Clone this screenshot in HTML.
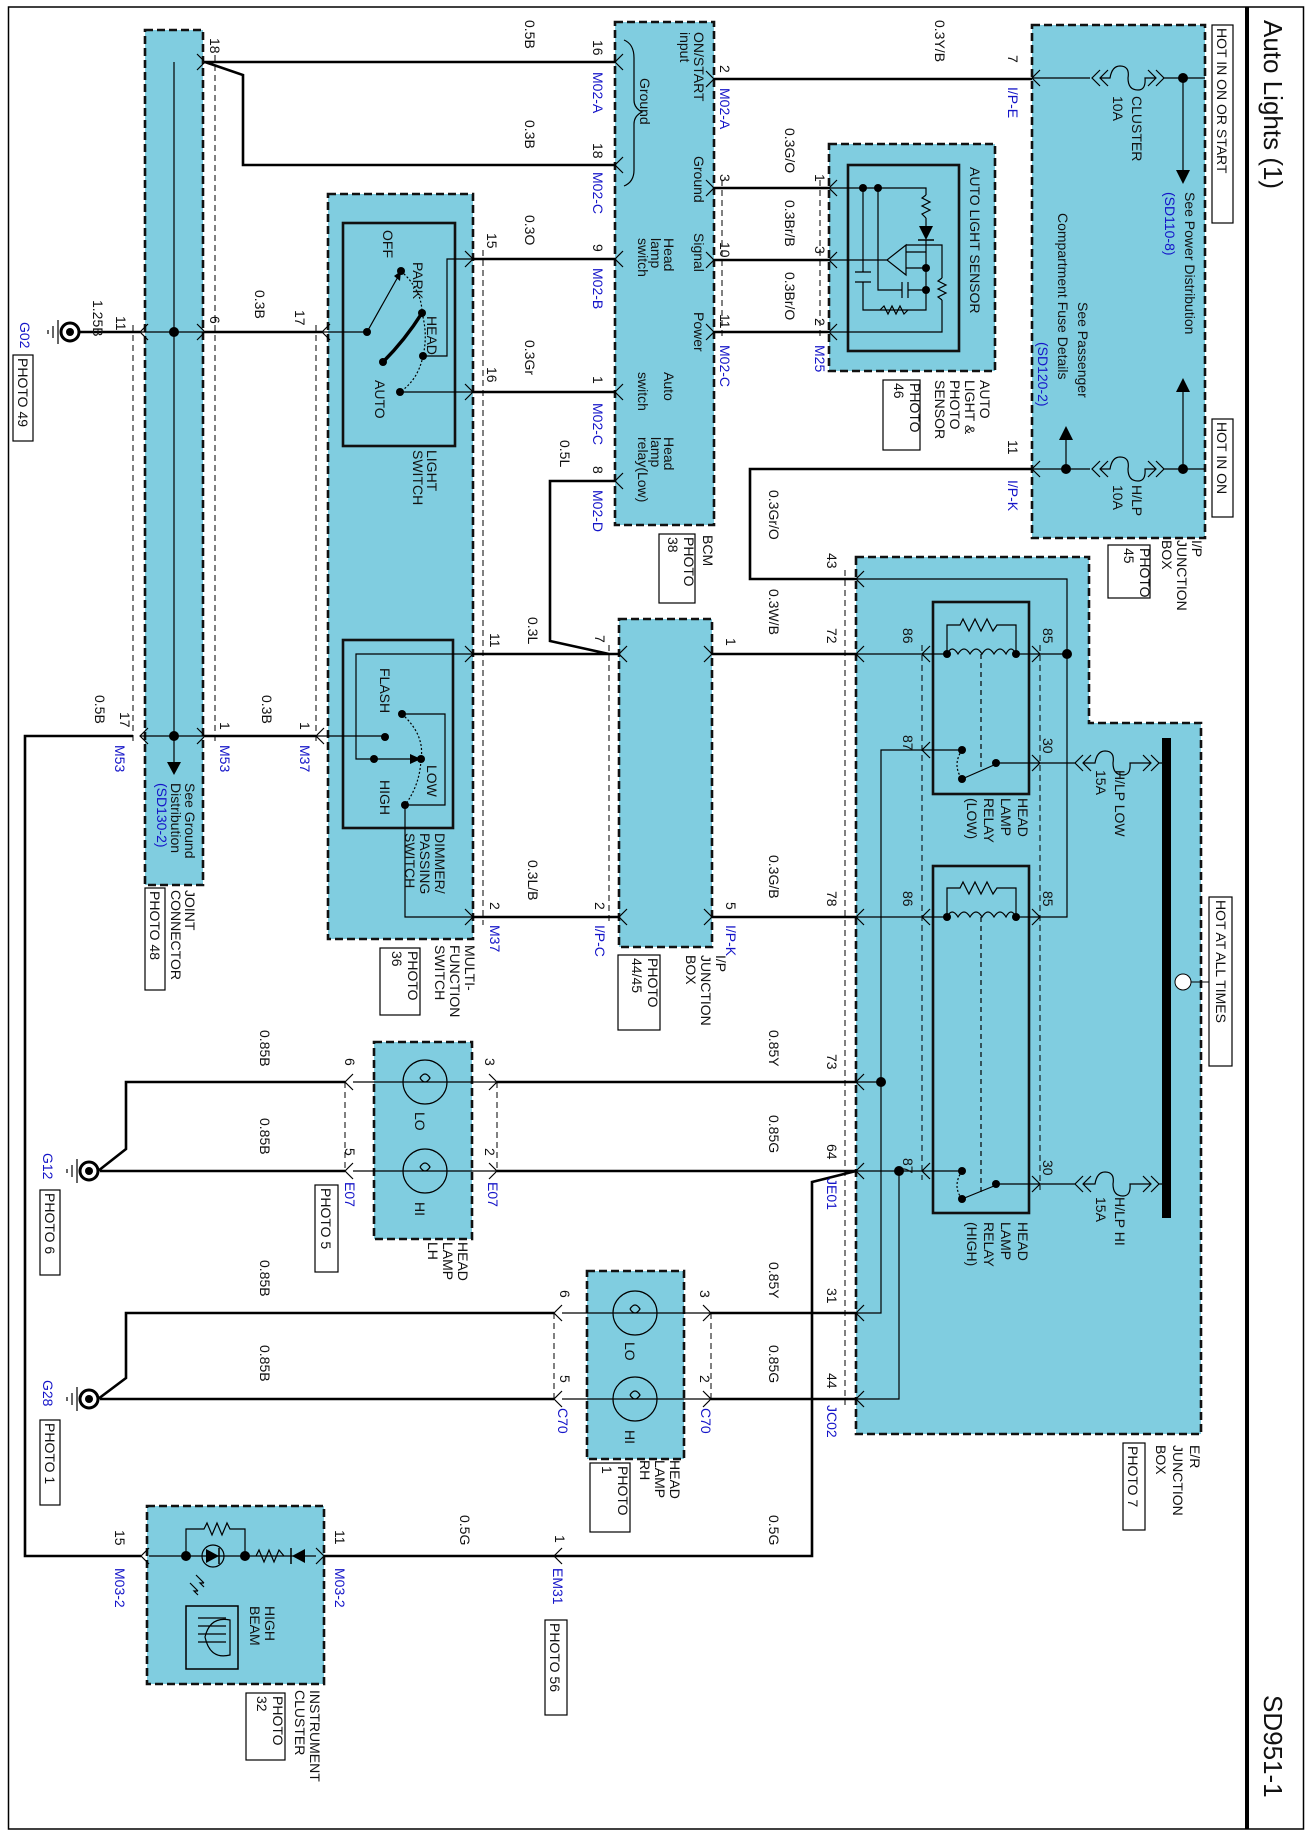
<!DOCTYPE html>
<html><head><meta charset="utf-8"><style>
html,body{margin:0;padding:0;background:#fff}
svg{display:block}
text{font-family:"Liberation Sans",sans-serif;font-size:14px;fill:#111}
.b{fill:#1414c8}
.w{stroke:#000;stroke-width:2.6;fill:none}
.n{stroke:#000;stroke-width:1.2;fill:none}
.d{stroke:#000;stroke-width:1;fill:none;stroke-dasharray:6 4}
.bx{fill:#80cde0;stroke:#111;stroke-width:2.6;stroke-dasharray:8 4}
.ir{fill:none;stroke:#111;stroke-width:2.6}
.pb{fill:#fff;stroke:#000;stroke-width:1.2}
</style></head><body>
<svg width="1311" height="1836" viewBox="0 0 1311 1836" xmlns="http://www.w3.org/2000/svg">
<rect x="8.5" y="7" width="1295" height="1822" fill="none" stroke="#000" stroke-width="1.5"/>
<line x1="1247" y1="7" x2="1247" y2="1829" stroke="#000" stroke-width="4"/>
<text transform="translate(1264,20) rotate(90)" style="font-size:26px">Auto Lights (1)</text>
<text transform="translate(1264,1695) rotate(90)" style="font-size:26px">SD951-1</text>

<rect class="bx" x="145" y="30" width="58" height="855"/>
<rect class="bx" x="328" y="194" width="145" height="745"/>
<rect class="bx" x="615" y="22" width="99" height="503"/>
<rect class="bx" x="829" y="144" width="166" height="227"/>
<rect class="bx" x="1032" y="25" width="173" height="513"/>
<rect class="bx" x="619" y="619" width="93" height="328"/>
<polygon class="bx" points="856,557 1089,557 1089,723 1201,723 1201,1434 856,1434"/>
<rect class="bx" x="374" y="1042" width="98" height="197"/>
<rect class="bx" x="587" y="1271" width="97" height="188"/>
<rect class="bx" x="147" y="1506" width="177" height="178"/>

<rect class="ir" x="343" y="223" width="112" height="223"/>
<rect class="ir" x="343" y="640" width="110" height="188"/>
<rect class="ir" x="848" y="165" width="111" height="186"/>
<rect class="ir" x="933" y="602" width="96" height="192"/>
<rect class="ir" x="933" y="866" width="96" height="347"/>

<path class="d" d="M133 325V745M215 55V745M316 325V745M483 250V925M609 645V925M722 180V340M820 180V340M845 570V1405M922 645V1180M1040 645V1190M345 1082V1171M497 1082V1171M554 1313V1399M711 1313V1399"/>

<path class="w" d="M205 62H615M205 62L243 75V165H615M80 332H140M205 332H322M473 259H615M473 392H615M615 481H550V641L609 654M473 654H619M473 917H619M712 654H856M712 917H856M714 79H1032M714 188H829M714 260H829M714 332H829M1032 469H750V579H856M497 1082H856M497 1171H856M345 1082H126V1149L98 1171M345 1171H100M711 1313H856M711 1399H856M554 1313H126V1378L98 1399M554 1399H100M856 1171L812 1182V1556H324M141 1556H25V736H133M205 736H316"/>

<g class="n" stroke-width="1.6">
<path d="M197 54L205 62L197 70M197 324L205 332L197 340M197 728L205 736L197 744M148 324L140 332L148 340M148 728L140 736L148 744"/>
<path d="M330 324L322 332L330 340M324 728L316 736L324 744M465 251L473 259L465 267M465 384L473 392L465 400M465 646L473 654L465 662M465 909L473 917L465 925"/>
<path d="M623 54L615 62L623 70M623 157L615 165L623 173M623 251L615 259L623 267M623 384L615 392L623 400M623 473L615 481L623 489"/>
<path d="M706 71L714 79L706 87M706 180L714 188L706 196M706 252L714 260L706 268M706 324L714 332L706 340"/>
<path d="M837 180L829 188L837 196M837 252L829 260L837 268M837 324L829 332L837 340M1040 70L1032 78L1040 86M1040 461L1032 469L1040 477"/>
<path d="M627 646L619 654L627 662M627 909L619 917L627 925M704 646L712 654L704 662M704 909L712 917L704 925"/>
<path d="M864 571L856 579L864 587M864 646L856 654L864 662M864 909L856 917L864 925M864 1074L856 1082L864 1090M864 1163L856 1171L864 1179M864 1305L856 1313L864 1321M864 1391L856 1399L864 1407"/>
<path d="M353 1074L345 1082L353 1090M353 1163L345 1171L353 1179M489 1074L497 1082L489 1090M489 1163L497 1171L489 1179M562 1305L554 1313L562 1321M562 1391L554 1399L562 1407M703 1305L711 1313L703 1321M703 1391L711 1399L703 1407"/>
<path d="M149 1548L141 1556L149 1564M316 1548L324 1556L316 1564M562 1548L554 1556L562 1564"/>
<path d="M930 646L922 654L930 662M930 742L922 750L930 758M930 909L922 917L930 925M930 1163L922 1171L930 1179M1032 646L1040 654L1032 662M1032 755L1040 763L1032 771M1032 909L1040 917L1032 925M1032 1176L1040 1184L1032 1192"/>
</g>

<path class="n" d="M174 62V762M140 332H205M140 736H205M856 1082H881"/>
<circle cx="174" cy="332" r="5"/><circle cx="174" cy="736" r="5"/>
<polygon points="167,762 181,762 174,775"/>

<circle cx="70" cy="332" r="9" fill="#fff" stroke="#000" stroke-width="3"/><circle cx="70" cy="332" r="4"/>
<path class="n" stroke-width="2" d="M58 320V344M53 326V338M48 330V334"/>
<circle cx="89" cy="1171" r="9" fill="#fff" stroke="#000" stroke-width="3"/><circle cx="89" cy="1171" r="4"/>
<path class="n" stroke-width="2" d="M77 1159V1183M72 1165V1177M67 1169V1173"/>
<circle cx="89" cy="1399" r="9" fill="#fff" stroke="#000" stroke-width="3"/><circle cx="89" cy="1399" r="4"/>
<path class="n" stroke-width="2" d="M77 1387V1411M72 1393V1405M67 1397V1401"/>

<path class="n" d="M322 332H367L399 275M400 392H473M423 356H447V259H473"/>
<path d="M401 271L394 276L400 281Z"/>
<path d="M383 362Q405 340 422 313" stroke="#000" stroke-width="3.5" fill="none"/>
<path class="n" stroke-dasharray="2 2" d="M401 271Q422 290 422 313Q428 335 423 356Q418 380 400 392"/>
<circle cx="367" cy="332" r="4"/><circle cx="401" cy="271" r="4"/><circle cx="422" cy="313" r="4"/><circle cx="383" cy="362" r="4"/><circle cx="423" cy="356" r="4"/><circle cx="400" cy="392" r="4"/>

<path class="n" d="M473 654H356V759H415M316 736H385M402 714H445V805H405M405 805V917H473"/>
<path d="M421 759L410 754L410 764Z"/>
<path class="n" stroke-dasharray="2 2" d="M402 714Q425 735 421 759Q420 785 405 805"/>
<circle cx="385" cy="737" r="4"/><circle cx="374" cy="759" r="4"/><circle cx="421" cy="759" r="4"/><circle cx="402" cy="714" r="4"/><circle cx="405" cy="805" r="4"/>

<path class="n" d="M624 40Q634 44 634 58V100Q634 108 642 112Q634 116 634 124V170Q634 182 624 186"/>

<g class="n">
<path d="M1032 78H1090M1100 70L1092 78L1100 86M1108 70L1100 78L1108 86M1100 78H1110Q1112 66 1120 66Q1130 66 1128 78Q1128 90 1138 90Q1146 90 1145 78H1155M1148 70L1156 78L1148 86M1156 70L1164 78L1156 86M1164 78H1205M1183 78V172"/>
<path d="M1032 469H1090M1100 461L1092 469L1100 477M1108 461L1100 469L1108 477M1100 469H1110Q1112 457 1120 457Q1130 457 1128 469Q1128 481 1138 481Q1146 481 1145 469H1155M1148 461L1156 469L1148 477M1156 461L1164 469L1156 477M1164 469H1205M1183 469V390M1066 469V438"/>
</g>
<circle cx="1183" cy="78" r="5"/><circle cx="1183" cy="469" r="5"/><circle cx="1066" cy="469" r="5"/>
<polygon points="1176,170 1190,170 1183,184"/><polygon points="1176,392 1190,392 1183,378"/><polygon points="1059,440 1073,440 1066,426"/>
<rect class="pb" x="1212" y="25" width="21" height="198"/>
<rect class="pb" x="1212" y="419" width="21" height="98"/>

<g class="n">
<path d="M829 188H926V195M926 218V226M926 240V310H880M863 188V272M855 272H871M855 282H871M863 282V310H880M878 188V290H902M902 282V298M908 282V298M908 290H926M829 260H887M887 260L906 245V275Z M906 252H926M906 268H926M906 245H942V278M942 300V332H829"/>
<path d="M926 195L922 198L930 202L922 206L930 210L922 214L926 218M942 278L938 281L946 285L938 289L946 293L938 297L942 300M880 310L884 306L888 314L892 306L896 314L900 306L904 314L908 310"/>
</g>
<polygon points="919,226 933,226 926,240"/><line x1="918" y1="240" x2="934" y2="240" stroke="#000" stroke-width="1.5"/>
<circle cx="863" cy="188" r="4"/><circle cx="878" cy="188" r="4"/><circle cx="926" cy="268" r="4"/><circle cx="926" cy="290" r="4"/>

<path class="n" d="M856 579H1067V917H1040M1040 654H1067M856 654H922M856 917H922M922 750H881V1313H856M922 1171H856M899 1171V1399H856"/>
<circle cx="1067" cy="654" r="5"/><circle cx="881" cy="1082" r="5"/><circle cx="899" cy="1171" r="5"/>
<rect x="1162" y="738" width="9" height="480"/>
<line x1="1191" y1="982" x2="1209" y2="982" stroke="#000"/>
<circle cx="1183" cy="982" r="8" fill="#fff" stroke="#000"/>
<rect class="pb" x="1209" y="897" width="23" height="169"/>

<g class="n">
<path d="M922 654H947M1016 654H1040M947 654V625H960L963 619L969 631L975 619L981 631L987 619L993 631L997 625H1016V654M947 654Q952 644 958 654Q964 644 970 654Q976 644 982 654Q988 644 994 654Q1000 644 1006 654Q1011 644 1016 654M922 750H962M996 763H1040M962 779L994 765M1040 763H1075M1083 755L1075 763L1083 771M1091 755L1083 763L1091 771M1083 763H1095Q1097 751 1105 751Q1115 751 1113 763Q1113 775 1123 775Q1131 775 1130 763H1150M1143 755L1151 763L1143 771M1151 755L1159 763L1151 771M1159 763H1162"/>
<path d="M922 917H947M1016 917H1040M947 917V888H960L963 882L969 894L975 882L981 894L987 882L993 894L997 888H1016V917M947 917Q952 907 958 917Q964 907 970 917Q976 907 982 917Q988 907 994 917Q1000 907 1006 917Q1011 907 1016 917M922 1171H962M996 1184H1040M962 1199L994 1186M1040 1184H1075M1083 1176L1075 1184L1083 1192M1091 1176L1083 1184L1091 1192M1083 1184H1095Q1097 1172 1105 1172Q1115 1172 1113 1184Q1113 1196 1123 1196Q1131 1196 1130 1184H1150M1143 1176L1151 1184L1143 1192M1151 1176L1159 1184L1151 1192M1159 1184H1162"/>
<path stroke-dasharray="5 4" d="M981 654V770M981 917V1192"/>
<path stroke-dasharray="2 2" d="M962 750Q952 765 962 779M962 1171Q952 1186 962 1199"/>
</g>
<circle cx="947" cy="654" r="4"/><circle cx="1016" cy="654" r="4"/><circle cx="962" cy="750" r="4"/><circle cx="996" cy="763" r="4"/><circle cx="962" cy="779" r="4"/>
<circle cx="947" cy="917" r="4"/><circle cx="1016" cy="917" r="4"/><circle cx="962" cy="1171" r="4"/><circle cx="996" cy="1184" r="4"/><circle cx="962" cy="1199" r="4"/>

<g class="n">
<circle cx="425" cy="1082" r="22"/><circle cx="425" cy="1171" r="22"/><circle cx="635" cy="1313" r="22"/><circle cx="635" cy="1399" r="22"/>
<path d="M353 1082H497M353 1171H497M562 1313H711M562 1399H711"/>
<path d="M420 1078Q425 1070 430 1078Q425 1086 420 1078M420 1167Q425 1159 430 1167Q425 1175 420 1167M630 1309Q635 1301 640 1309Q635 1317 630 1309M630 1395Q635 1387 640 1395Q635 1403 630 1395"/>
</g>

<g class="n">
<path d="M149 1556H316M186 1556V1529H204L207 1523L212 1535L217 1523L222 1535L227 1523L230 1529H245V1556M256 1556L259 1550L264 1562L269 1550L274 1562L279 1550L284 1556"/>
<circle cx="213" cy="1556" r="11"/>
<path d="M196 1575L204 1583M190 1583L198 1591M204 1583L200 1583L204 1587M198 1591L194 1591L198 1595"/>
<rect x="186" y="1606" width="52" height="63" stroke-width="1.5"/>
<path d="M198 1618H226M198 1626H226M198 1634H226M198 1642H226M230 1620Q210 1616 205 1637Q210 1660 230 1655Z"/>
</g>
<polygon points="206,1549 206,1563 219,1556"/><line x1="219" y1="1548" x2="219" y2="1564" stroke="#000" stroke-width="1.5"/>
<polygon points="305,1549 305,1563 292,1556"/><line x1="291" y1="1548" x2="291" y2="1564" stroke="#000" stroke-width="1.5"/>
<circle cx="186" cy="1556" r="5"/><circle cx="245" cy="1556" r="5"/>

<g class="pb">
<rect x="13" y="355" width="20" height="86"/>
<rect x="145" y="888" width="20" height="102"/>
<rect x="380" y="948" width="40" height="67"/>
<rect x="659" y="534" width="36" height="69"/>
<rect x="618" y="955" width="42" height="75"/>
<rect x="883" y="380" width="37" height="70"/>
<rect x="1108" y="545" width="42" height="53"/>
<rect x="1123" y="1443" width="22" height="87"/>
<rect x="40" y="1190" width="20" height="85"/>
<rect x="40" y="1420" width="20" height="85"/>
<rect x="315" y="1185" width="23" height="87"/>
<rect x="590" y="1463" width="40" height="69"/>
<rect x="545" y="1620" width="22" height="95"/>
<rect x="246" y="1693" width="39" height="67"/>
</g>

<g>
<text transform="translate(1217,28) rotate(90)">HOT IN ON OR START</text>
<text transform="translate(1217,422) rotate(90)">HOT IN ON</text>
<text transform="translate(1132,96) rotate(90)">CLUSTER</text>
<text transform="translate(1113,96) rotate(90)">10A</text>
<text transform="translate(1185,192) rotate(90)">See Power Distribution</text>
<text class="b" transform="translate(1165,192) rotate(90)">(SD110-8)</text>
<text transform="translate(1078,302) rotate(90)">See Passenger</text>
<text transform="translate(1058,213) rotate(90)">Compartment Fuse Details</text>
<text class="b" transform="translate(1038,342) rotate(90)">(SD120-2)</text>
<text transform="translate(1132,485) rotate(90)">H/LP</text>
<text transform="translate(1113,485) rotate(90)">10A</text>
<text transform="translate(1008,55) rotate(90)">7</text>
<text class="b" transform="translate(1008,87) rotate(90)">I/P-E</text>
<text transform="translate(1008,440) rotate(90)">11</text>
<text class="b" transform="translate(1008,480) rotate(90)">I/P-K</text>
<text transform="translate(1192,540) rotate(90)">I/P</text>
<text transform="translate(1177,540) rotate(90)">JUNCTION</text>
<text transform="translate(1162,540) rotate(90)">BOX</text>
<text transform="translate(1140,548) rotate(90)">PHOTO</text>
<text transform="translate(1124,548) rotate(90)">45</text>
<text transform="translate(935,20) rotate(90)">0.3Y/B</text>
<text transform="translate(970,167) rotate(90)">AUTO LIGHT SENSOR</text>
<text transform="translate(980,380) rotate(90)">AUTO</text>
<text transform="translate(965,380) rotate(90)">LIGHT &amp;</text>
<text transform="translate(950,380) rotate(90)">PHOTO</text>
<text transform="translate(935,380) rotate(90)">SENSOR</text>
<text transform="translate(910,383) rotate(90)">PHOTO</text>
<text transform="translate(894,383) rotate(90)">46</text>
<text transform="translate(815,174) rotate(90)">1</text>
<text transform="translate(815,246) rotate(90)">3</text>
<text transform="translate(815,318) rotate(90)">2</text>
<text class="b" transform="translate(815,345) rotate(90)">M25</text>
<text transform="translate(785,128) rotate(90)">0.3G/O</text>
<text transform="translate(785,200) rotate(90)">0.3Br/B</text>
<text transform="translate(785,272) rotate(90)">0.3Br/O</text>
<text transform="translate(720,65) rotate(90)">2</text>
<text class="b" transform="translate(720,88) rotate(90)">M02-A</text>
<text transform="translate(720,174) rotate(90)">3</text>
<text transform="translate(720,242) rotate(90)">10</text>
<text transform="translate(720,314) rotate(90)">11</text>
<text class="b" transform="translate(720,345) rotate(90)">M02-C</text>
<text transform="translate(694,32) rotate(90)">ON/START</text>
<text transform="translate(680,32) rotate(90)">input</text>
<text transform="translate(640,78) rotate(90)">Ground</text>
<text transform="translate(694,156) rotate(90)">Ground</text>
<text transform="translate(694,233) rotate(90)">Signal</text>
<text transform="translate(694,312) rotate(90)">Power</text>
<text transform="translate(664,238) rotate(90)">Head</text>
<text transform="translate(651,238) rotate(90)">lamp</text>
<text transform="translate(638,238) rotate(90)">switch</text>
<text transform="translate(664,372) rotate(90)">Auto</text>
<text transform="translate(638,372) rotate(90)">switch</text>
<text transform="translate(664,437) rotate(90)">Head</text>
<text transform="translate(651,437) rotate(90)">lamp</text>
<text transform="translate(638,437) rotate(90)">relay(Low)</text>
<text transform="translate(593,40) rotate(90)">16</text>
<text class="b" transform="translate(593,72) rotate(90)">M02-A</text>
<text transform="translate(593,143) rotate(90)">18</text>
<text class="b" transform="translate(593,172) rotate(90)">M02-C</text>
<text transform="translate(593,244) rotate(90)">9</text>
<text class="b" transform="translate(593,268) rotate(90)">M02-B</text>
<text transform="translate(593,376) rotate(90)">1</text>
<text class="b" transform="translate(593,403) rotate(90)">M02-C</text>
<text transform="translate(593,466) rotate(90)">8</text>
<text class="b" transform="translate(593,490) rotate(90)">M02-D</text>
<text transform="translate(703,535) rotate(90)">BCM</text>
<text transform="translate(684,537) rotate(90)">PHOTO</text>
<text transform="translate(668,537) rotate(90)">38</text>
<text transform="translate(525,20) rotate(90)">0.5B</text>
<text transform="translate(525,120) rotate(90)">0.3B</text>
<text transform="translate(525,215) rotate(90)">0.3O</text>
<text transform="translate(525,340) rotate(90)">0.3Gr</text>
<text transform="translate(560,440) rotate(90)">0.5L</text>
<text transform="translate(487,233) rotate(90)">15</text>
<text transform="translate(487,367) rotate(90)">16</text>
<text transform="translate(295,310) rotate(90)">17</text>
<text transform="translate(210,316) rotate(90)">6</text>
<text transform="translate(255,290) rotate(90)">0.3B</text>
<text transform="translate(210,38) rotate(90)">18</text>
<text transform="translate(116,316) rotate(90)">11</text>
<text transform="translate(93,300) rotate(90)">1.25B</text>
<text class="b" transform="translate(20,322) rotate(90)">G02</text>
<text transform="translate(18,358) rotate(90)">PHOTO 49</text>
<text transform="translate(383,230) rotate(90)">OFF</text>
<text transform="translate(413,262) rotate(90)">PARK</text>
<text transform="translate(427,316) rotate(90)">HEAD</text>
<text transform="translate(375,380) rotate(90)">AUTO</text>
<text transform="translate(427,450) rotate(90)">LIGHT</text>
<text transform="translate(413,450) rotate(90)">SWITCH</text>
<text transform="translate(380,668) rotate(90)">FLASH</text>
<text transform="translate(427,765) rotate(90)">LOW</text>
<text transform="translate(380,780) rotate(90)">HIGH</text>
<text transform="translate(435,833) rotate(90)">DIMMER/</text>
<text transform="translate(420,833) rotate(90)">PASSING</text>
<text transform="translate(405,833) rotate(90)">SWITCH</text>
<text transform="translate(465,945) rotate(90)">MULTI-</text>
<text transform="translate(450,945) rotate(90)">FUNCTION</text>
<text transform="translate(435,945) rotate(90)">SWITCH</text>
<text transform="translate(408,951) rotate(90)">PHOTO</text>
<text transform="translate(392,951) rotate(90)">36</text>
<text transform="translate(185,783) rotate(90)">See Ground</text>
<text transform="translate(171,783) rotate(90)">Distribution</text>
<text class="b" transform="translate(157,783) rotate(90)">(SD130-2)</text>
<text transform="translate(185,890) rotate(90)">JOINT</text>
<text transform="translate(171,890) rotate(90)">CONNECTOR</text>
<text transform="translate(150,891) rotate(90)">PHOTO 48</text>
<text transform="translate(120,712) rotate(90)">17</text>
<text class="b" transform="translate(115,745) rotate(90)">M53</text>
<text transform="translate(95,695) rotate(90)">0.5B</text>
<text transform="translate(220,722) rotate(90)">1</text>
<text class="b" transform="translate(220,745) rotate(90)">M53</text>
<text transform="translate(262,695) rotate(90)">0.3B</text>
<text transform="translate(300,722) rotate(90)">1</text>
<text class="b" transform="translate(300,745) rotate(90)">M37</text>
<text transform="translate(490,633) rotate(90)">11</text>
<text transform="translate(528,617) rotate(90)">0.3L</text>
<text transform="translate(595,635) rotate(90)">7</text>
<text transform="translate(490,902) rotate(90)">2</text>
<text class="b" transform="translate(490,925) rotate(90)">M37</text>
<text transform="translate(528,860) rotate(90)">0.3L/B</text>
<text transform="translate(595,902) rotate(90)">2</text>
<text class="b" transform="translate(595,925) rotate(90)">I/P-C</text>
<text transform="translate(716,955) rotate(90)">I/P</text>
<text transform="translate(701,955) rotate(90)">JUNCTION</text>
<text transform="translate(686,955) rotate(90)">BOX</text>
<text transform="translate(648,958) rotate(90)">PHOTO</text>
<text transform="translate(632,958) rotate(90)">44/45</text>
<text transform="translate(726,638) rotate(90)">1</text>
<text transform="translate(726,902) rotate(90)">5</text>
<text class="b" transform="translate(726,925) rotate(90)">I/P-K</text>
<text transform="translate(769,490) rotate(90)">0.3Gr/O</text>
<text transform="translate(769,589) rotate(90)">0.3W/B</text>
<text transform="translate(769,855) rotate(90)">0.3G/B</text>
<text transform="translate(827,553) rotate(90)">43</text>
<text transform="translate(827,628) rotate(90)">72</text>
<text transform="translate(827,891) rotate(90)">78</text>
<text transform="translate(827,1054) rotate(90)">73</text>
<text transform="translate(827,1144) rotate(90)">64</text>
<text class="b" transform="translate(827,1178) rotate(90)">JE01</text>
<text transform="translate(827,1288) rotate(90)">31</text>
<text transform="translate(827,1373) rotate(90)">44</text>
<text class="b" transform="translate(827,1405) rotate(90)">JC02</text>
<text transform="translate(903,628) rotate(90)">86</text>
<text transform="translate(903,735) rotate(90)">87</text>
<text transform="translate(1043,628) rotate(90)">85</text>
<text transform="translate(1043,738) rotate(90)">30</text>
<text transform="translate(903,891) rotate(90)">86</text>
<text transform="translate(903,1158) rotate(90)">87</text>
<text transform="translate(1043,891) rotate(90)">85</text>
<text transform="translate(1043,1160) rotate(90)">30</text>
<text transform="translate(1018,798) rotate(90)">HEAD</text>
<text transform="translate(1001,798) rotate(90)">LAMP</text>
<text transform="translate(984,798) rotate(90)">RELAY</text>
<text transform="translate(967,798) rotate(90)">(LOW)</text>
<text transform="translate(1018,1222) rotate(90)">HEAD</text>
<text transform="translate(1001,1222) rotate(90)">LAMP</text>
<text transform="translate(984,1222) rotate(90)">RELAY</text>
<text transform="translate(967,1222) rotate(90)">(HIGH)</text>
<text transform="translate(1115,770) rotate(90)">H/LP LOW</text>
<text transform="translate(1096,770) rotate(90)">15A</text>
<text transform="translate(1115,1197) rotate(90)">H/LP HI</text>
<text transform="translate(1096,1197) rotate(90)">15A</text>
<text transform="translate(1216,900) rotate(90)">HOT AT ALL TIMES</text>
<text transform="translate(1190,1445) rotate(90)">E/R</text>
<text transform="translate(1173,1445) rotate(90)">JUNCTION</text>
<text transform="translate(1156,1445) rotate(90)">BOX</text>
<text transform="translate(1128,1446) rotate(90)">PHOTO 7</text>
<text transform="translate(769,1030) rotate(90)">0.85Y</text>
<text transform="translate(769,1115) rotate(90)">0.85G</text>
<text transform="translate(769,1262) rotate(90)">0.85Y</text>
<text transform="translate(769,1345) rotate(90)">0.85G</text>
<text transform="translate(769,1515) rotate(90)">0.5G</text>
<text transform="translate(260,1030) rotate(90)">0.85B</text>
<text transform="translate(260,1118) rotate(90)">0.85B</text>
<text transform="translate(260,1260) rotate(90)">0.85B</text>
<text transform="translate(260,1345) rotate(90)">0.85B</text>
<text transform="translate(345,1058) rotate(90)">6</text>
<text transform="translate(345,1148) rotate(90)">5</text>
<text transform="translate(485,1058) rotate(90)">3</text>
<text transform="translate(485,1148) rotate(90)">2</text>
<text class="b" transform="translate(345,1182) rotate(90)">E07</text>
<text class="b" transform="translate(488,1182) rotate(90)">E07</text>
<text transform="translate(321,1188) rotate(90)">PHOTO 5</text>
<text transform="translate(415,1112) rotate(90)">LO</text>
<text transform="translate(415,1202) rotate(90)">HI</text>
<text transform="translate(458,1242) rotate(90)">HEAD</text>
<text transform="translate(443,1242) rotate(90)">LAMP</text>
<text transform="translate(428,1242) rotate(90)">LH</text>
<text class="b" transform="translate(43,1153) rotate(90)">G12</text>
<text transform="translate(45,1193) rotate(90)">PHOTO 6</text>
<text class="b" transform="translate(43,1380) rotate(90)">G28</text>
<text transform="translate(45,1423) rotate(90)">PHOTO 1</text>
<text transform="translate(560,1290) rotate(90)">6</text>
<text transform="translate(560,1375) rotate(90)">5</text>
<text transform="translate(700,1290) rotate(90)">3</text>
<text transform="translate(700,1375) rotate(90)">2</text>
<text class="b" transform="translate(558,1408) rotate(90)">C70</text>
<text class="b" transform="translate(701,1408) rotate(90)">C70</text>
<text transform="translate(625,1342) rotate(90)">LO</text>
<text transform="translate(625,1430) rotate(90)">HI</text>
<text transform="translate(670,1460) rotate(90)">HEAD</text>
<text transform="translate(655,1460) rotate(90)">LAMP</text>
<text transform="translate(640,1460) rotate(90)">RH</text>
<text transform="translate(618,1466) rotate(90)">PHOTO</text>
<text transform="translate(602,1466) rotate(90)">1</text>
<text transform="translate(115,1530) rotate(90)">15</text>
<text class="b" transform="translate(115,1568) rotate(90)">M03-2</text>
<text transform="translate(335,1530) rotate(90)">11</text>
<text class="b" transform="translate(335,1568) rotate(90)">M03-2</text>
<text transform="translate(460,1515) rotate(90)">0.5G</text>
<text transform="translate(555,1535) rotate(90)">1</text>
<text class="b" transform="translate(553,1568) rotate(90)">EM31</text>
<text transform="translate(550,1623) rotate(90)">PHOTO 56</text>
<text transform="translate(265,1606) rotate(90)">HIGH</text>
<text transform="translate(250,1606) rotate(90)">BEAM</text>
<text transform="translate(310,1690) rotate(90)">INSTRUMENT</text>
<text transform="translate(295,1690) rotate(90)">CLUSTER</text>
<text transform="translate(273,1696) rotate(90)">PHOTO</text>
<text transform="translate(257,1696) rotate(90)">32</text>
</g>
</svg>
</body></html>
